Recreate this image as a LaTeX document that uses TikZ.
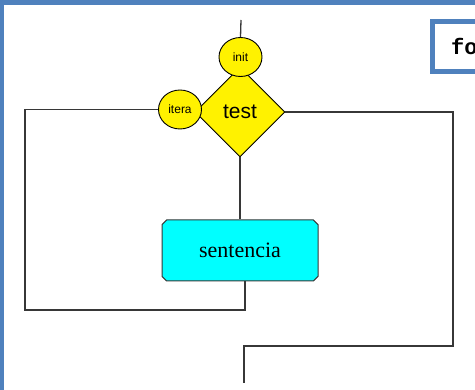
\documentclass[tikz,border=0pt]{standalone}
\usepackage{fontspec}
\setmainfont{Liberation Serif}
\newfontfamily\arialfont{Liberation Sans}
\newfontfamily\courfont{Liberation Mono}
\usetikzlibrary{shapes, shapes.geometric, shapes.misc, arrows, positioning}
\definecolor{framecol}{RGB}{79,129,189}
\definecolor{wirecol}{RGB}{55,55,55}
\definecolor{boxcyan}{RGB}{0,255,255}

\begin{document}
\begin{tikzpicture}[x=1pt, y=-1pt]
            \tikzstyle{wire}=[draw=wirecol, line width=1.3pt]
            \tikzstyle{bubble}=[ellipse, draw=black, line width=0.9pt, fill=yellow, minimum width=43pt, minimum height=39pt, inner sep=0pt, font=\arialfont\fontsize{12}{12}\selectfont]
            \tikzstyle{decision}=[diamond, draw=black, line width=0.9pt, fill=yellow, minimum width=90pt, minimum height=90pt, inner sep=0pt, font=\arialfont\fontsize{21}{21}\selectfont]
            \tikzstyle{stmt}=[chamfered rectangle, chamfered rectangle xsep=1.5pt, draw=wirecol, line width=1pt, fill=boxcyan, minimum width=156pt, minimum height=61pt, inner sep=0pt, font=\fontsize{22}{22}\selectfont]
            \clip (0,0) rectangle (475,390);
            % frame
            \fill[framecol] (0,0) rectangle (475,5);
            \fill[framecol] (0,0) rectangle (4,390);
            \draw[framecol, line width=5pt, fill=white] (432.5,21.5) rectangle (490,71.5);
            \node[anchor=base west, inner sep=0pt, font=\courfont\bfseries\fontsize{22}{22}\selectfont] (title) at (451,55) {fo};
            % nodes
            \node[decision] (test) at (240,112) {test};
            \node[bubble] (init) at (240.5,57) {init};
            \node[bubble] (itera) at (180,109.5) {itera};
            \node[stmt] (sentencia) at (240,250.5) {sentencia};
            \coordinate (start) at (241,20);
            \coordinate (loopL) at (25,310);
            \coordinate (loopR) at (453,346);
            \coordinate (exit) at (244,383);
            % connectors
            \draw[wire] (start) -- (init.north);
            \draw[wire] (test.south) -- (sentencia.north);
            \draw[wire] (itera.west) -| (loopL) -| ([xshift=5pt]sentencia.south);
            \draw[wire] (test.east) -| (loopR) -| (exit);
\end{tikzpicture}
\end{document}
